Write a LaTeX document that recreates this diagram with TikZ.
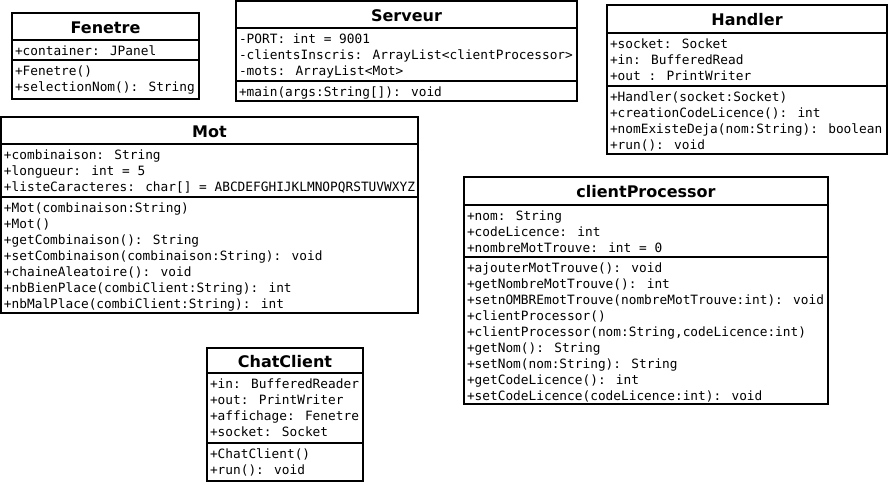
\documentclass[tikz,border=0pt]{standalone}
\usepackage{fontspec}
\newfontfamily\umlmono{DejaVu Sans Mono}
\newfontfamily\umlsans{DejaVu Sans}
\tikzset{
  x=1pt, y=-1pt,
  umlline/.style={draw=black, line width=1.6pt},
  umltitle/.style={inner sep=0pt, anchor=center, font=\umlsans\bfseries\fontsize{16}{19}\selectfont},
  umlmember/.style={inner sep=0pt, anchor=base west, font=\umlmono\fontsize{12.8}{16}\selectfont}
}
% name, x1, y1, x2, y title sep, y member sep, y2, title
\newcommand\umlbox[8]{%
  \draw[umlline] (#2,#3) rectangle (#4,#7);
  \draw[umlline] (#2,#5) -- (#4,#5);
  \draw[umlline] (#2,#6) -- (#4,#6);
  \node[umltitle] (#1) at ({(#2+#4)/2},{(#3+#5)/2+0.8}) {#8};
}
% prefix, x1 of box, separator y, list of lines
\newcommand\umllines[4]{%
  \foreach \t [count=\i] in {#4} {
    \node[umlmember] (#1-\i) at ({#2+2.8},{#3+15.3+16*(\i-1)}) {\t};
  }
}
\begin{document}
\begin{tikzpicture}
\useasboundingbox (0,0) rectangle (890,484);
\fill[white] (0,0) rectangle (890,484);

% Fenetre
\umlbox{fenetre}{12}{13}{199}{40}{60}{99}{Fenetre}
\umllines{fenetreA}{12}{40}{{+container: JPanel}}
\umllines{fenetreM}{12}{60}{{+Fenetre()},{+selectionNom(): String}}

% Serveur
\umlbox{serveur}{236}{1}{577}{28}{81}{101}{Serveur}
\umllines{serveurA}{236}{28}{{-PORT: int = 9001},{-clientsInscris: ArrayList<clientProcessor>},{-mots: ArrayList<Mot>}}
\umllines{serveurM}{236}{81}{{+main(args:String[]): void}}

% Handler
\umlbox{handler}{607}{5}{887}{33}{86}{154}{Handler}
\umllines{handlerA}{607}{33}{{+socket: Socket},{+in: BufferedRead},{+out : PrintWriter}}
\umllines{handlerM}{607}{86}{{+Handler(socket:Socket)},{+creationCodeLicence(): int},{+nomExisteDeja(nom:String): boolean},{+run(): void}}

% Mot
\umlbox{mot}{1}{117}{418}{144}{197}{313}{Mot}
\umllines{motA}{1}{144}{{+combinaison: String},{+longueur: int = 5},{+listeCaracteres: char[] = ABCDEFGHIJKLMNOPQRSTUVWXYZ}}
\umllines{motM}{1}{197}{{+Mot(combinaison:String)},{+Mot()},{+getCombinaison(): String},{+setCombinaison(combinaison:String): void},{+chaineAleatoire(): void},{+nbBienPlace(combiClient:String): int},{+nbMalPlace(combiClient:String): int}}

% clientProcessor
\umlbox{cp}{464}{177}{828}{205}{257}{404}{clientProcessor}
\umllines{cpA}{464}{205}{{+nom: String},{+codeLicence: int},{+nombreMotTrouve: int = 0}}
\umllines{cpM}{464}{257}{{+ajouterMotTrouve(): void},{+getNombreMotTrouve(): int},{+setnOMBREmotTrouve(nombreMotTrouve:int): void},{+clientProcessor()},{+clientProcessor(nom:String,codeLicence:int)},{+getNom(): String},{+setNom(nom:String): String},{+getCodeLicence(): int},{+setCodeLicence(codeLicence:int): void}}

% ChatClient
\umlbox{chat}{207}{348}{363}{373}{443}{481}{ChatClient}
\umllines{chatA}{207}{373}{{+in: BufferedReader},{+out: PrintWriter},{+affichage: Fenetre},{+socket: Socket}}
\umllines{chatM}{207}{443}{{+ChatClient()},{+run(): void}}
\end{tikzpicture}
\end{document}
